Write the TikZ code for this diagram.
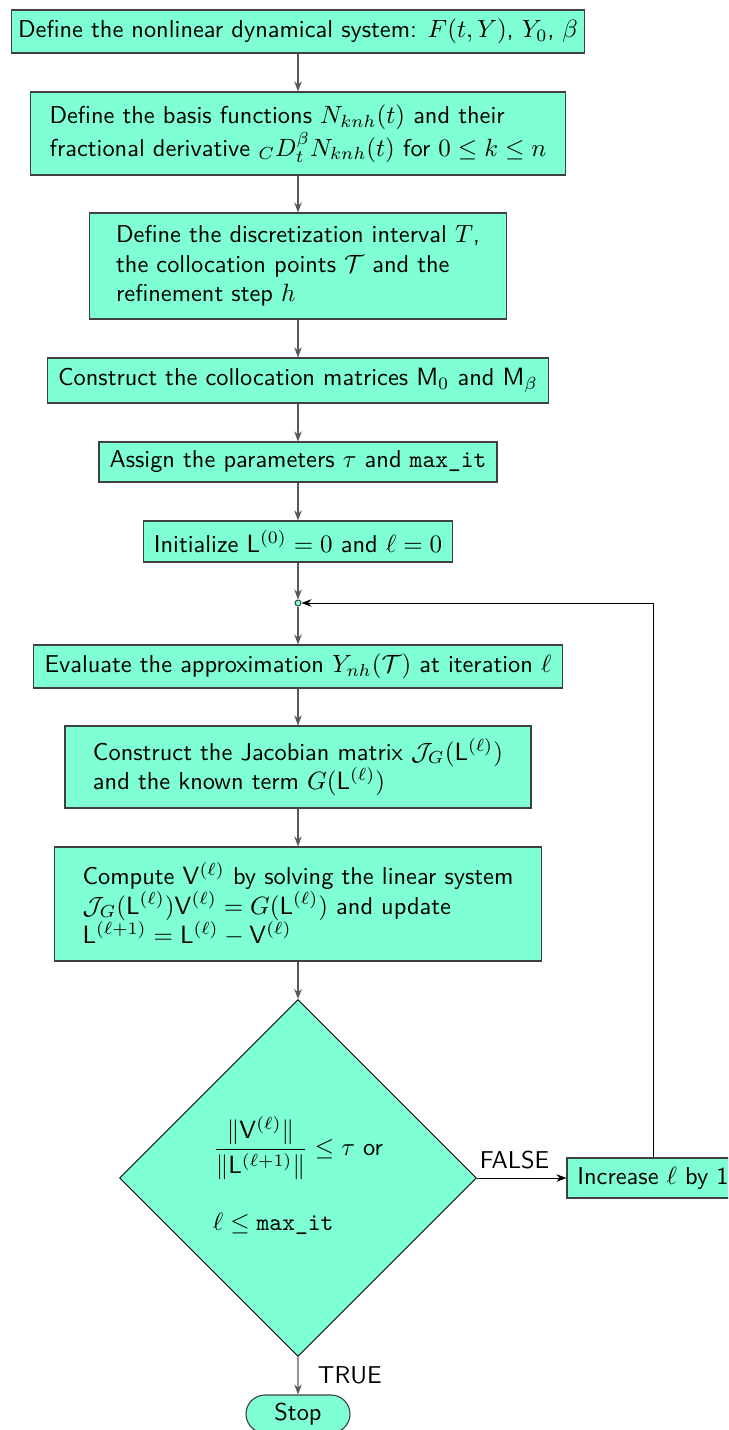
\documentclass[tikz,border=0pt]{standalone}
\usetikzlibrary{shapes.geometric,shapes.misc,arrows.meta}
\renewcommand{\familydefault}{\sfdefault}
\definecolor{aqua}{HTML}{7FFFD4}
\begin{document}
\begin{tikzpicture}[x=0.4pt,y=-0.4pt,
  every node/.style={font=\fontsize{9.75}{11.8}\selectfont},
  box/.style={rectangle, draw=black!75, fill=aqua, line width=0.45pt, inner sep=0pt, align=center},
  mbox/.style={box, align=left},
  decision/.style={diamond, draw=black, fill=aqua, line width=0.35pt, inner sep=0pt, shape aspect=1, minimum width=142.8pt, minimum height=142.8pt},
  terminal/.style={rounded rectangle, draw=black!75, fill=aqua, line width=0.45pt, inner sep=0pt, minimum width=41.6pt, minimum height=15.2pt},
  junction/.style={circle, draw=black!75, fill=aqua, line width=0.4pt, inner sep=0pt, minimum size=2.4pt},
  flow/.style={draw=black!65, line width=0.5pt, -{Stealth[length=4pt,width=3pt]}},
  backflow/.style={draw=black, line width=0.4pt, -{Stealth[length=4pt,width=3pt]}}]
\useasboundingbox (0,0) rectangle (728,1430);
\clip (0,0) rectangle (728,1430);

\node[box, minimum width=229.2pt, minimum height=17.2pt] (b1) at (298,31.5)
  {Define the nonlinear dynamical system: $F(t,Y)$, $Y_0$, $\beta$};
\node[mbox, minimum width=214pt, minimum height=33.2pt] (b2) at (298,133.5)
  {Define the basis functions $N_{knh}(t)$ and their\\ fractional derivative ${}_{C}D_t^{\beta}N_{knh}(t)$ for $0\le k\le n$};
\node[mbox, minimum width=166.8pt, minimum height=42.4pt] (b3) at (298,266)
  {Define the discretization interval $T$,\\ the collocation points $\mathcal{T}$ and the\\ refinement step $h$};
\node[box, minimum width=200.4pt, minimum height=18pt] (b4) at (298,380.5)
  {Construct the collocation matrices $\mathsf{M}_0$ and $\mathsf{M}_\beta$};
\node[box, minimum width=159.2pt, minimum height=16pt] (b5) at (298,462)
  {Assign the parameters $\tau$ and \texttt{max\_it}};
\node[box, minimum width=123.6pt, minimum height=16.4pt] (b6) at (298,541.5)
  {Initialize $\mathsf{L}^{(0)}=0$ and $\ell=0$};
\node[junction] (j) at (298,603) {};
\node[box, minimum width=211.6pt, minimum height=17.2pt] (b7) at (298,666.5)
  {Evaluate the approximation $Y_{nh}(\mathcal{T})$ at iteration $\ell$};
\node[mbox, minimum width=186.4pt, minimum height=32.8pt] (b8) at (298,767)
  {Construct the Jacobian matrix $\mathcal{J}_G(\mathsf{L}^{(\ell)})$\\ and the known term $G(\mathsf{L}^{(\ell)})$};
\node[mbox, minimum width=194.8pt, minimum height=45.6pt] (b9) at (298,904)
  {Compute $\mathsf{V}^{(\ell)}$ by solving the linear system\\ $\mathcal{J}_G(\mathsf{L}^{(\ell)})\mathsf{V}^{(\ell)}=G(\mathsf{L}^{(\ell)})$ and update\\ $\mathsf{L}^{(\ell+1)}=\mathsf{L}^{(\ell)}-\mathsf{V}^{(\ell)}$};
\node[decision] (d) at (298,1178)
  {\begin{tabular}{@{}l@{}}$\displaystyle\frac{\|\mathsf{V}^{(\ell)}\|}{\|\mathsf{L}^{(\ell+1)}\|}\le\tau$ or\\[18pt] $\ell\le\texttt{max\_it}$\end{tabular}};
\node[box, minimum width=68.8pt, minimum height=16pt] (inc) at (653,1178)
  {Increase $\ell$ by 1};
\node[terminal] (stop) at (298,1414) {Stop};

\draw[flow] (b1) -- (b2);
\draw[flow] (b2) -- (b3);
\draw[flow] (b3) -- (b4);
\draw[flow] (b4) -- (b5);
\draw[flow] (b5) -- (b6);
\draw[flow] (b6) -- (j);
\draw[flow] (j) -- (b7);
\draw[flow] (b7) -- (b8);
\draw[flow] (b8) -- (b9);
\draw[flow] (b9) -- (d);
\draw[flow] (d.south) -- node[right, xshift=4.4pt] {TRUE} (stop);
\draw[backflow] (d.east) -- node[above, pos=0.42] {FALSE} (inc);
\draw[backflow] (inc.north) |- (j);
\end{tikzpicture}
\end{document}
